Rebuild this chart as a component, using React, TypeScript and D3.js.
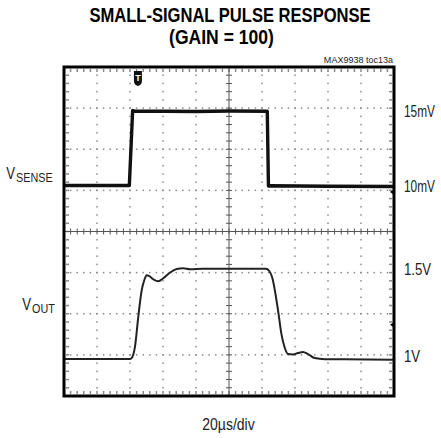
import { useRef, useEffect } from 'react';
import * as d3 from 'd3';

// time axis, microseconds (20us/div, 10 div)
const timeDomain = [0, 200];
const divsX = 10;
const divsY = 8;

// channel 1: VSENSE in mV
const vsenseTime = [0, 39.6, 41.6, 42.5, 80, 100, 123.2, 123.9, 125, 160, 200];
const vsenseMv = [10.03, 10.03, 15.03, 15.0, 14.97, 15.0, 14.98, 10.0, 10.02, 9.98, 9.97];
const ch1Ticks = [10, 15];

// channel 2: VOUT in V
const voutTime = [
  0, 40.0, 41.2, 43.0, 45.0, 47.1, 48.7, 50.1, 51.5, 54.1, 57.2, 60.2, 64.2,
  68.3, 72.3, 76.4, 84.2, 100, 122.4, 124.3, 126.1, 129.7, 131.7, 133.7,
  135.8, 138.8, 141.8, 144.8, 147.9, 152.0, 158.0, 170, 200
];
const voutV = [
  0.983, 0.983, 0.991, 1.052, 1.224, 1.379, 1.437, 1.464, 1.46, 1.441, 1.429,
  1.447, 1.479, 1.5, 1.504, 1.498, 1.502, 1.502, 1.502, 1.49, 1.454, 1.264,
  1.13, 1.05, 1.011, 1.009, 1.017, 1.023, 1.011, 0.988, 0.982, 0.981, 0.979
];
const ch2Ticks = [1, 1.5];

// reference markers on the right edge, and trigger point
const ch1Marker = 9.6;
const ch2Marker = 1.18;
const triggerTime = 44.8;

const font = "'Liberation Sans', Arial, sans-serif";

const App = () => {
  const ref = useRef(null);

  useEffect(() => {
    const root = d3.select(ref.current);
    root.selectAll('*').remove();

    const left = 64, right = 394, top = 67, bottom = 396;

    const x = d3.scaleLinear().domain(timeDomain).range([left, right]);
    const y = d3.scaleLinear().domain([0, divsY]).range([bottom, top]);
    const yCh1 = d3.scaleLinear().domain([10, 15]).range([186, 111]);
    const yCh2 = d3.scaleLinear().domain([1, 1.5]).range([356, 269]);

    const svg = root.append('g');
    const tPerDiv = (timeDomain[1] - timeDomain[0]) / divsX;

    // condensed text: horizontal squeeze, the font has no narrow cut here
    const narrow = (g, tx, ty, str, size, sx = 0.74, anchor = 'start') =>
      g.append('text').attr('transform', `translate(${tx},${ty}) scale(${sx},1)`)
        .attr('text-anchor', anchor).attr('font-size', size).text(str);

    // dotted graticule
    const grid = svg.append('g').attr('fill', '#8a8a8a');
    const minorT = d3.range(timeDomain[0], timeDomain[1] + 0.01, tPerDiv / 5);
    const minorY = d3.range(0, divsY + 0.01, 0.2);
    d3.range(1, divsY).filter(k => k !== divsY / 2).forEach(k => {
      grid.selectAll(null).data(minorT).enter().append('rect')
        .attr('x', d => x(d) - 0.75).attr('y', y(k) - 0.75)
        .attr('width', 1.5).attr('height', 1.5);
    });
    d3.range(1, divsX).filter(k => k !== divsX / 2).forEach(k => {
      grid.selectAll(null).data(minorY).enter().append('rect')
        .attr('x', x(k * tPerDiv) - 0.75).attr('y', d => y(d) - 0.75)
        .attr('width', 1.5).attr('height', 1.5);
    });
    // small ticks just inside the border
    grid.selectAll(null).data(minorT).enter().append('rect')
      .attr('x', d => x(d) - 0.75).attr('y', top + 2).attr('width', 1.5).attr('height', 3);
    grid.selectAll(null).data(minorT).enter().append('rect')
      .attr('x', d => x(d) - 0.75).attr('y', bottom - 5).attr('width', 1.5).attr('height', 3);
    grid.selectAll(null).data(minorY).enter().append('rect')
      .attr('x', left + 2).attr('y', d => y(d) - 0.75).attr('width', 3).attr('height', 1.5);
    grid.selectAll(null).data(minorY).enter().append('rect')
      .attr('x', right - 5).attr('y', d => y(d) - 0.75).attr('width', 3).attr('height', 1.5);

    // center crosshair with minor ticks
    const cross = svg.append('g').attr('stroke', '#555').attr('stroke-width', 1);
    const cy = y(divsY / 2), cx = x(timeDomain[1] / 2);
    cross.append('line').attr('x1', left).attr('x2', right).attr('y1', cy).attr('y2', cy);
    cross.append('line').attr('x1', cx).attr('x2', cx).attr('y1', top).attr('y2', bottom);
    cross.selectAll(null).data(minorT).enter().append('line')
      .attr('x1', d => x(d)).attr('x2', d => x(d)).attr('y1', cy - 3).attr('y2', cy + 3);
    cross.selectAll(null).data(minorY).enter().append('line')
      .attr('y1', d => y(d)).attr('y2', d => y(d)).attr('x1', cx - 3).attr('x2', cx + 3);

    // traces
    const line1 = d3.line().x((d, i) => x(vsenseTime[i])).y(d => yCh1(d));
    svg.append('path').attr('d', line1(vsenseMv))
      .attr('fill', 'none').attr('stroke', '#111').attr('stroke-width', 3.4)
      .attr('stroke-linejoin', 'round');

    const line2 = d3.line().x((d, i) => x(voutTime[i])).y(d => yCh2(d))
      .curve(d3.curveMonotoneX);
    svg.append('path').attr('d', line2(voutV))
      .attr('fill', 'none').attr('stroke', '#222').attr('stroke-width', 2)
      .attr('stroke-linejoin', 'round');

    // frame
    svg.append('rect').attr('x', left).attr('y', top)
      .attr('width', right - left).attr('height', bottom - top)
      .attr('fill', 'none').attr('stroke', '#000').attr('stroke-width', 3);

    // right-edge reference markers
    [yCh1(ch1Marker), yCh2(ch2Marker)].forEach(my => {
      svg.append('path')
        .attr('d', `M${right - 4},${my} L${right + 1},${my - 3.5} L${right + 1},${my + 3.5} Z`)
        .attr('fill', '#000');
    });

    // trigger marker
    const tx = x(triggerTime);
    const trig = svg.append('g').attr('transform', `translate(${tx},${top + 4})`);
    trig.append('path')
      .attr('d', 'M-4,0 L4,0 L4,10 Q4,14 0,15 Q-4,14 -4,10 Z')
      .attr('fill', '#111');
    trig.append('text').attr('x', 0).attr('y', 10).attr('text-anchor', 'middle')
      .attr('font-family', font).attr('font-weight', 'bold').attr('font-size', 9)
      .attr('fill', '#fff').text('T');

    // right-hand level labels
    const labels = svg.append('g').attr('font-family', font).attr('fill', '#222');
    ch1Ticks.forEach(v => narrow(labels, 404, yCh1(v) + 6, `${v}mV`, 16.5, 0.72));
    ch2Ticks.forEach(v => narrow(labels, 404, yCh2(v) + 6, `${v}V`, 16.5, 0.8));

    // channel names on the left, subscript set as a separate smaller text
    const names = [
      { main: 'V', sub: 'SENSE', y: 179, subX: 16 },
      { main: 'V', sub: 'OUT', y: 310, subX: 32 }
    ];
    names.forEach(n => {
      narrow(labels, n.subX - 1, n.y, n.main, 16.5, 0.8, 'end');
      narrow(labels, n.subX, n.y + 3, n.sub, 13.5, 0.8);
    });

    // titles
    const title = svg.append('g').attr('font-family', font).attr('font-weight', 'bold')
      .attr('fill', '#000');
    narrow(title, 230, 22, 'SMALL-SIGNAL PULSE RESPONSE', 19.5, 0.85, 'middle');
    narrow(title, 221.5, 44, '(GAIN = 100)', 19.5, 0.9, 'middle');

    const small = svg.append('g').attr('font-family', font).attr('fill', '#222');
    narrow(small, 393, 63, 'MAX9938 toc13a', 9.5, 0.95, 'end');
    narrow(small, 228.5, 430, '20µs/div', 16.5, 0.85, 'middle');
  }, []);

  return (
    <svg
      ref={ref}
      width={441}
      height={438}
      style={{ position: 'absolute', left: 0, top: 0, background: '#fff' }}
    />
  );
};

export default App;
